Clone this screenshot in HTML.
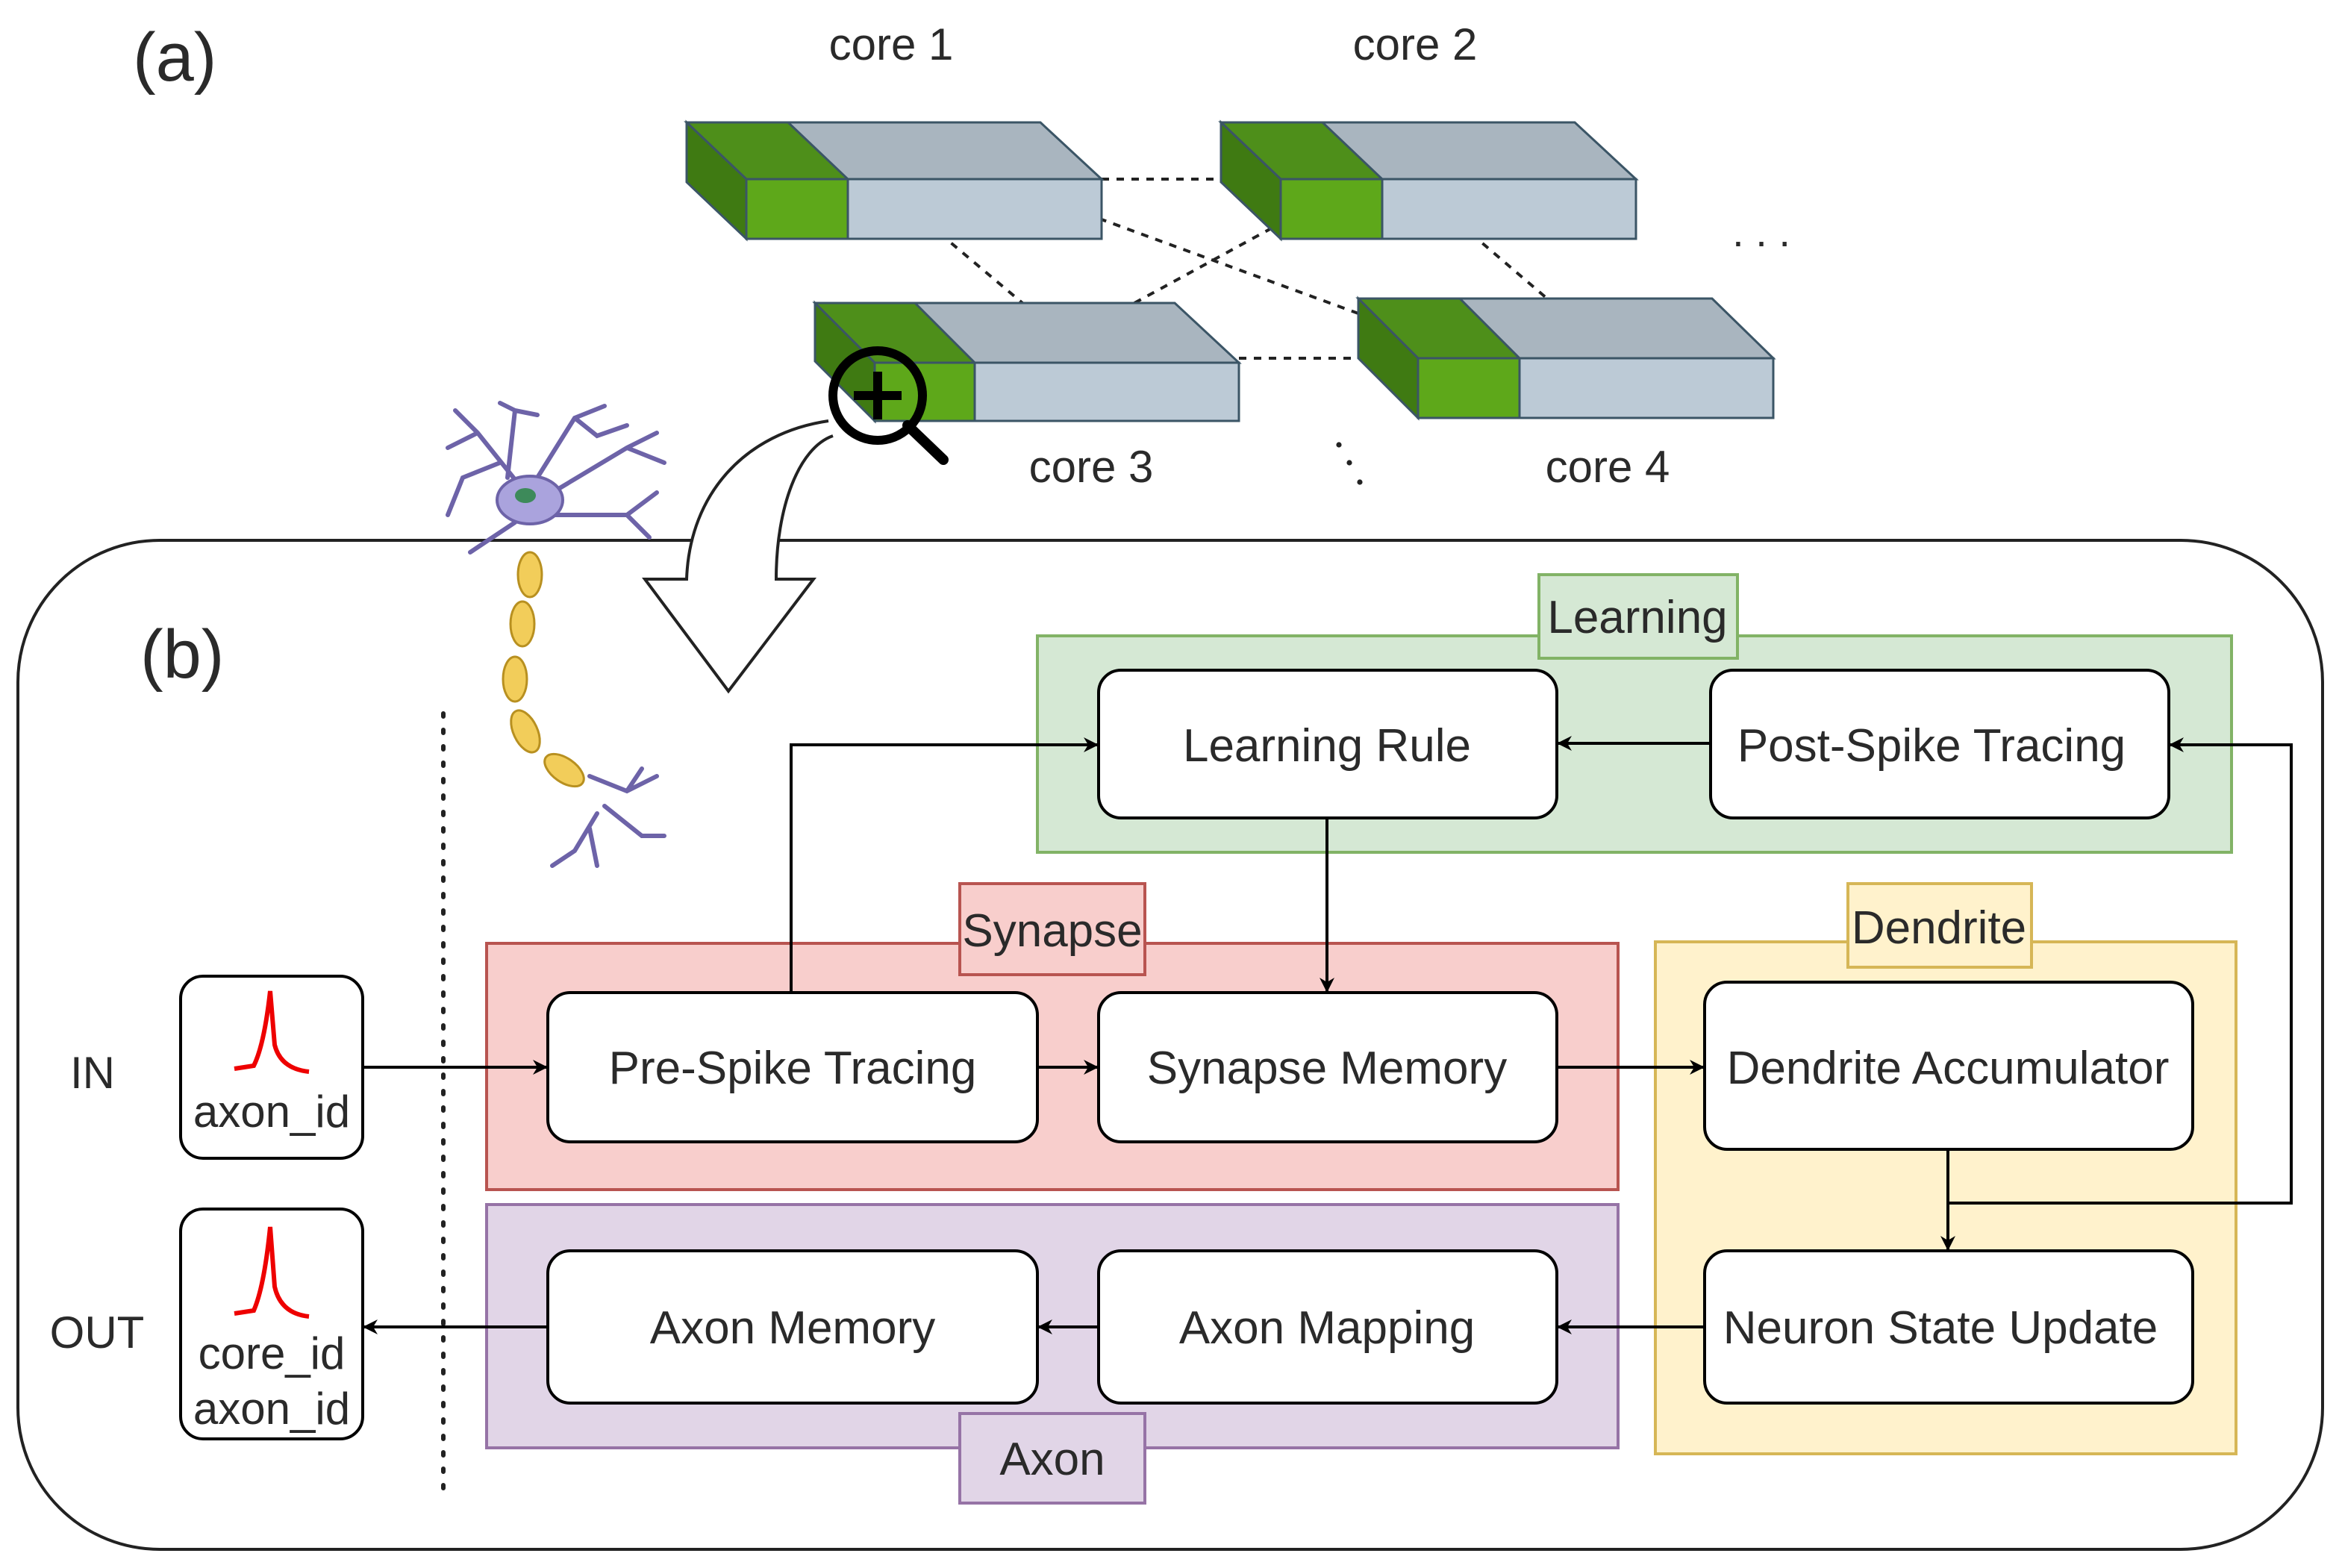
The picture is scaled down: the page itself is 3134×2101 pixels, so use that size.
<!DOCTYPE html>
<html><head><meta charset="utf-8">
<style>
html,body{margin:0;padding:0;background:#fff;}
svg{display:block;}
text{font-family:"Liberation Sans",sans-serif;fill:#2a2a2a;}
</style></head>
<body>
<svg width="3134" height="2101" viewBox="0 0 1567 1050.5" xmlns="http://www.w3.org/2000/svg">
<defs>
<marker id="ah" markerWidth="10" markerHeight="10" refX="9" refY="5" orient="auto" markerUnits="userSpaceOnUse">
<path d="M0,0 L10,5 L0,10 L3,5 Z" fill="#000"/>
</marker>
</defs>
<rect width="1567" height="1050.5" fill="#fff"/>

<text x="89" y="54" font-size="46">(a)</text>
<text x="597" y="40" font-size="30" text-anchor="middle">core 1</text>
<text x="948" y="40" font-size="30" text-anchor="middle">core 2</text>
<text x="731" y="323" font-size="30" text-anchor="middle">core 3</text>
<text x="1077" y="323" font-size="30" text-anchor="middle">core 4</text>

<g stroke="#222" stroke-width="2" stroke-dasharray="5,5" fill="none">
<line x1="738" y1="120" x2="858" y2="120"/>
<line x1="727" y1="143" x2="910" y2="210"/>
<line x1="760" y1="203" x2="870" y2="143"/>
<line x1="622" y1="150" x2="685" y2="203"/>
<line x1="978" y1="150" x2="1040" y2="203"/>
<line x1="830" y1="240" x2="950" y2="240"/>
</g>

<g stroke="#3b5566" stroke-width="1.5">
 <polygon points="460,82 697,82 738,120 500,120" fill="#a9b5bf"/>
 <polygon points="460,82 528,82 568,120 500,120" fill="#4e8f1a"/>
 <polygon points="460,82 500,120 500,160 460,122" fill="#3f7a12"/>
 <rect x="500" y="120" width="238" height="40" fill="#bccad6"/>
 <rect x="500" y="120" width="68" height="40" fill="#5ea81a"/>
 <polygon points="818,82 1055,82 1096,120 858,120" fill="#a9b5bf"/>
 <polygon points="818,82 886,82 926,120 858,120" fill="#4e8f1a"/>
 <polygon points="818,82 858,120 858,160 818,122" fill="#3f7a12"/>
 <rect x="858" y="120" width="238" height="40" fill="#bccad6"/>
 <rect x="858" y="120" width="68" height="40" fill="#5ea81a"/>
 <polygon points="546,203 787,203 830,243 586,243" fill="#a9b5bf"/>
 <polygon points="546,203 613,203 653,243 586,243" fill="#4e8f1a"/>
 <polygon points="546,203 586,243 586,282 546,242" fill="#3f7a12"/>
 <rect x="586" y="243" width="244" height="39" fill="#bccad6"/>
 <rect x="586" y="243" width="67" height="39" fill="#5ea81a"/>
 <polygon points="910,200 1147,200 1188,240 950,240" fill="#a9b5bf"/>
 <polygon points="910,200 978,200 1018,240 950,240" fill="#4e8f1a"/>
 <polygon points="910,200 950,240 950,280 910,240" fill="#3f7a12"/>
 <rect x="950" y="240" width="238" height="40" fill="#bccad6"/>
 <rect x="950" y="240" width="68" height="40" fill="#5ea81a"/>
</g>
<text x="1180" y="165" font-size="28" text-anchor="middle">. . .</text>
<g fill="#222"><circle cx="897" cy="298" r="1.8"/><circle cx="904" cy="310" r="1.8"/><circle cx="911" cy="323" r="1.8"/></g>

<rect x="12" y="362" width="1544" height="676" rx="95" fill="none" stroke="#222" stroke-width="2"/>

<path d="M555,282 C500,290 462,330 460,388 L432,388 L488,463 L545,388 L520,388 C520,340 535,300 558,292" fill="#fff" stroke="#222" stroke-width="2"/>

<line x1="608" y1="285" x2="632" y2="308" stroke="#000" stroke-width="7" stroke-linecap="round"/>
<circle cx="588" cy="265" r="30" fill="none" stroke="#000" stroke-width="6"/>
<line x1="572" y1="265" x2="604" y2="265" stroke="#000" stroke-width="6"/>
<line x1="588" y1="249" x2="588" y2="281" stroke="#000" stroke-width="6"/>

<text x="94" y="454" font-size="46">(b)</text>

<g stroke="#6d63a8" stroke-width="3" fill="none" stroke-linecap="round">
 <path d="M352,330 L320,290 L305,275 M320,290 L300,300 M335,310 L310,320 L300,345 M340,320 L345,275 L335,270 M345,275 L360,278 M360,320 L385,280 L405,272 M385,280 L400,292 L420,285 M370,330 L420,300 L440,290 M420,300 L445,310 M372,345 L420,345 L440,330 M420,345 L435,360 M345,350 L315,370 M345,350 L330,360"/>
 <path d="M395,520 L420,530 L440,520 M405,540 L430,560 L445,560 M400,545 L385,570 L370,580 M395,555 L400,580 M420,530 L430,515"/>
</g>
<ellipse cx="355" cy="335" rx="22" ry="16" fill="#aaa3dd" stroke="#6d63a8" stroke-width="2"/>
<ellipse cx="352" cy="332" rx="7" ry="5" fill="#3d8a5a"/>
<g fill="#f2cd5a" stroke="#b89020" stroke-width="1.5">
 <ellipse cx="355" cy="385" rx="8" ry="15"/>
 <ellipse cx="350" cy="418" rx="8" ry="15"/>
 <ellipse cx="345" cy="455" rx="8" ry="15"/>
 <ellipse cx="352" cy="490" rx="8" ry="15" transform="rotate(-25 352 490)"/>
 <ellipse cx="378" cy="516" rx="8" ry="15" transform="rotate(-55 378 516)"/>
</g>

<line x1="297" y1="478" x2="297" y2="1003" stroke="#222" stroke-width="3" stroke-dasharray="2,9" stroke-linecap="round"/>

<rect x="695" y="426" width="800" height="145" fill="#d5e8d4" stroke="#82b366" stroke-width="2"/>
<rect x="1031" y="385" width="133" height="56" fill="#d5e8d4" stroke="#82b366" stroke-width="2"/>
<text x="1097" y="424" font-size="31" text-anchor="middle">Learning</text>

<rect x="326" y="632" width="758" height="165" fill="#f8cecc" stroke="#b85450" stroke-width="2"/>
<rect x="643" y="592" width="124" height="61" fill="#f8cecc" stroke="#b85450" stroke-width="2"/>
<text x="705" y="634" font-size="31" text-anchor="middle">Synapse</text>

<rect x="1109" y="631" width="389" height="343" fill="#fff2cc" stroke="#d6b656" stroke-width="2"/>
<rect x="1238" y="592" width="123" height="56" fill="#fff2cc" stroke="#d6b656" stroke-width="2"/>
<text x="1299" y="632" font-size="31" text-anchor="middle">Dendrite</text>

<rect x="326" y="807" width="758" height="163" fill="#e1d5e7" stroke="#9673a6" stroke-width="2"/>
<rect x="643" y="947" width="124" height="60" fill="#e1d5e7" stroke="#9673a6" stroke-width="2"/>
<text x="705" y="988" font-size="31" text-anchor="middle">Axon</text>

<g fill="#fff" stroke="#000" stroke-width="2">
 <rect x="736" y="449" width="307" height="99" rx="15"/>
 <rect x="1146" y="449" width="307" height="99" rx="15"/>
 <rect x="367" y="665" width="328" height="100" rx="15"/>
 <rect x="736" y="665" width="307" height="100" rx="15"/>
 <rect x="1142" y="658" width="327" height="112" rx="15"/>
 <rect x="1142" y="838" width="327" height="102" rx="15"/>
 <rect x="367" y="838" width="328" height="102" rx="15"/>
 <rect x="736" y="838" width="307" height="102" rx="15"/>
 <rect x="121" y="654" width="122" height="122" rx="15"/>
 <rect x="121" y="810" width="122" height="154" rx="15"/>
</g>
<g font-size="31" text-anchor="middle">
 <text x="889" y="510">Learning Rule</text>
 <text x="1294" y="510">Post-Spike Tracing</text>
 <text x="531" y="726">Pre-Spike Tracing</text>
 <text x="889" y="726">Synapse Memory</text>
 <text x="1305" y="726">Dendrite Accumulator</text>
 <text x="1300" y="900">Neuron State Update</text>
 <text x="531" y="900">Axon Memory</text>
 <text x="889" y="900">Axon Mapping</text>
</g>
<g font-size="30" text-anchor="middle">
 <text x="182" y="755">axon_id</text>
 <text x="182" y="917">core_id</text>
 <text x="182" y="954">axon_id</text>
 <text x="62" y="729">IN</text>
 <text x="65" y="903">OUT</text>
</g>
<g stroke="#ee0000" stroke-width="3" fill="none">
 <path d="M157,716 L170,714 Q177,700 181,664 L184,700 Q188,716 207,718"/>
 <path d="M157,880 L170,878 Q177,862 181,822 L184,862 Q188,880 207,882"/>
</g>

<g stroke="#000" stroke-width="2" fill="none" marker-end="url(#ah)">
 <line x1="243" y1="715" x2="366" y2="715"/>
 <line x1="695" y1="715" x2="735" y2="715"/>
 <line x1="1043" y1="715" x2="1141" y2="715"/>
 <line x1="889" y1="548" x2="889" y2="664"/>
 <polyline points="530,665 530,499 735,499"/>
 <line x1="1146" y1="498" x2="1044" y2="498"/>
 <line x1="1305" y1="770" x2="1305" y2="837"/>
 <polyline points="1305,806 1535,806 1535,499 1454,499"/>
 <line x1="1142" y1="889" x2="1044" y2="889"/>
 <line x1="736" y1="889" x2="696" y2="889"/>
 <line x1="367" y1="889" x2="244" y2="889"/>
</g>
</svg>
</body></html>
